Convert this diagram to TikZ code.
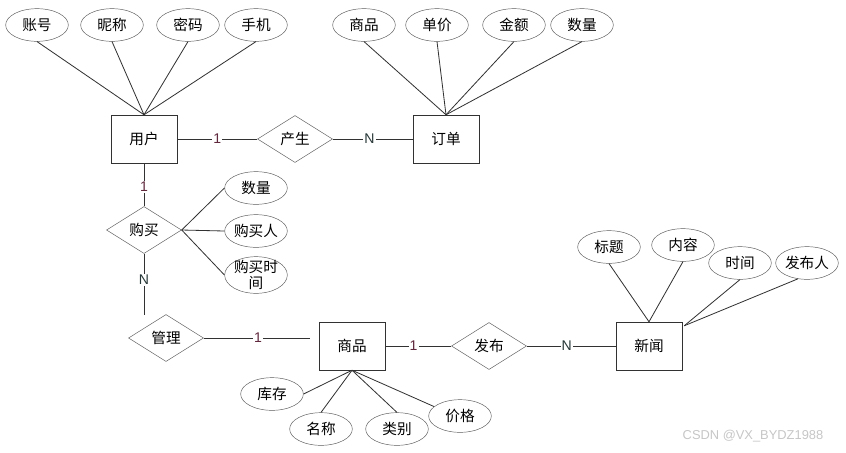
\documentclass[tikz,border=0pt]{standalone}
\usepackage{fontspec}
\usetikzlibrary{shapes.geometric,calc}
\newfontfamily\cjk{Noto Sans CJK SC}
\newfontfamily\labfont{Liberation Sans}
\definecolor{edgegray}{RGB}{50,50,50}
\definecolor{onered}{RGB}{95,40,60}
\definecolor{ngray}{RGB}{40,55,55}

\tikzset{
  entity/.style={draw=edgegray,rectangle,minimum width=19.8mm,minimum height=14.4mm,
    inner sep=0pt,font=\cjk\fontsize{12.5}{14}\selectfont},
  attr/.style={draw=edgegray!80,ellipse,minimum width=18.8mm,minimum height=9.8mm,
    inner sep=0pt,font=\cjk\fontsize{12.5}{14}\selectfont},
  rel/.style={draw=edgegray!80,diamond,minimum width=22.5mm,minimum height=14.1mm,
    inner sep=0pt,font=\cjk\fontsize{12.5}{14}\selectfont},
  card/.style={fill=white,inner sep=1pt,font=\labfont\fontsize{12}{13}\selectfont},
  link/.style={draw=edgegray,line width=0.7pt}
}

\begin{document}
\begin{tikzpicture}[x=0.3mm,y=-0.3mm]
  \useasboundingbox (0,0) rectangle (846,452);

  \node[entity] (yonghu) at (144,139) {用户};
  \node[entity] (dingdan) at (446,139) {订单};
  \node[entity] (shangpin) at (352,346) {商品};
  \node[entity] (xinwen) at (649,346) {新闻};

  \node[rel] (chansheng) at (295,139) {产生};
  \node[rel] (goumai) at (144,230) {购买};
  \node[rel] (guanli) at (166,338) {管理};
  \node[rel] (fabu) at (489,346) {发布};

  \node[attr] (zhanghao) at (37,25) {账号};
  \node[attr] (nicheng) at (112,25) {昵称};
  \node[attr] (mima) at (188,25) {密码};
  \node[attr] (shouji) at (256,25) {手机};

  \node[attr] (ddsp) at (364,25) {商品};
  \node[attr] (danjia) at (437,25) {单价};
  \node[attr] (jine) at (514,25) {金额};
  \node[attr] (ddsl) at (582,25) {数量};

  \node[attr] (gmsl) at (256,188) {数量};
  \node[attr] (gmr) at (256,231) {购买人};
  \node[attr,minimum height=11mm,
    label={[align=center,font=\cjk\fontsize{12.5}{13}\selectfont]center:购买时\\间}]
    (gmsj) at (256,275) {};

  \node[attr] (kucun) at (272,394) {库存};
  \node[attr] (mingcheng) at (321,429) {名称};
  \node[attr] (leibie) at (397,429) {类别};
  \node[attr] (jiage) at (460,416) {价格};

  \node[attr] (biaoti) at (609,247) {标题};
  \node[attr] (neirong) at (683,245) {内容};
  \node[attr] (shijian) at (740,263) {时间};
  \node[attr] (fbr) at (807,263) {发布人};

  \coordinate (gmend) at (144,315);
  \coordinate (glend) at (310,338);
  \coordinate (xwpt) at ($(xinwen.north east)+(2,4)$);

  \foreach \a in {zhanghao,nicheng,mima,shouji}
    \draw[link] (\a.south) -- (yonghu.north);
  \foreach \a in {ddsp,danjia,jine,ddsl}
    \draw[link] (\a.south) -- (dingdan.north);
  \foreach \a in {gmsl,gmr,gmsj}
    \draw[link] (goumai.east) -- (\a.west);
  \draw[link] (kucun.east) -- (shangpin.south);
  \draw[link] (mingcheng.north) -- (shangpin.south);
  \draw[link] (leibie.north) -- (shangpin.south);
  \draw[link] (jiage.160) -- (shangpin.south);
  \draw[link] (biaoti.south) -- (xinwen.north);
  \draw[link] (neirong.south) -- (xinwen.north);
  \draw[link] (shijian.south) -- (xwpt);
  \draw[link] (fbr.240) -- (xwpt);

  \draw[link] (yonghu.east) -- node[card,text=onered,pos=0.5] {1} (chansheng.west);
  \draw[link] (chansheng.east) -- node[card,text=ngray,pos=0.46] {N} (dingdan.west);
  \draw[link] (yonghu.south) -- node[card,text=onered,pos=0.55] {1} (goumai.north);
  \draw[link] (goumai.south) -- node[card,text=ngray,pos=0.43] {N} (gmend);
  \draw[link] (guanli.east) -- node[card,text=onered,pos=0.51] {1} (glend);
  \draw[link] (shangpin.east) -- node[card,text=onered,pos=0.43] {1} (fabu.west);
  \draw[link] (fabu.east) -- node[card,text=ngray,pos=0.45] {N} (xinwen.west);

  \node[text=gray!45,font=\labfont\fontsize{11}{12}\selectfont] (csdn) at (753,436) {CSDN @VX\_BYDZ1988};
\end{tikzpicture}
\end{document}
